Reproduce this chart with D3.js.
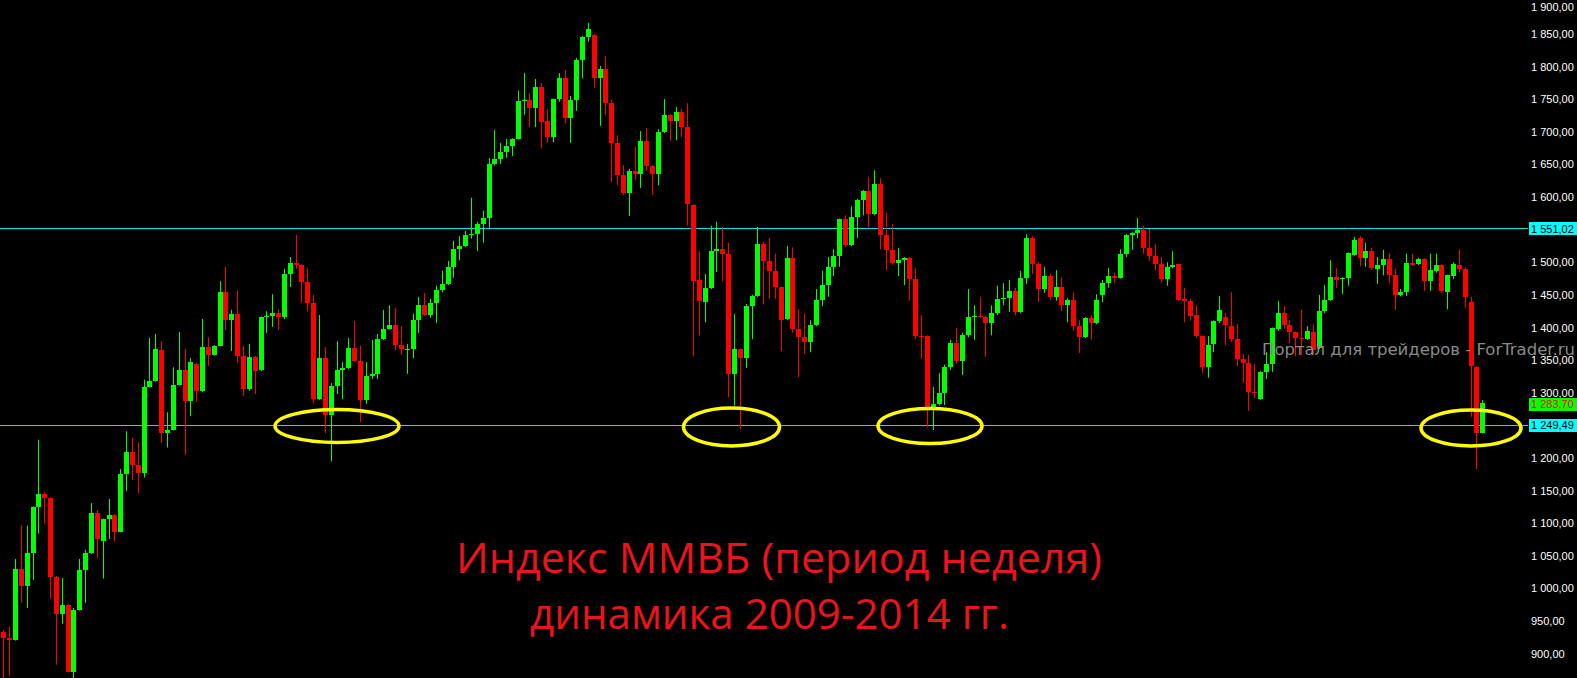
<!DOCTYPE html>
<html><head><meta charset="utf-8">
<script src="https://cdn.jsdelivr.net/npm/d3@7"></script>
<style>html,body{margin:0;padding:0;background:#000;overflow:hidden}svg{display:block}</style>
</head><body>
<svg id="c" width="1577" height="678"></svg>
<script>
// Weekly MICEX index candles (open, high, low, close)
const opens = [932,923,920,1029,1002,1053,1124,1144,1138,1017,960,974,871,966,1027,1053,1115,1072,1105,1112,1086,1174,1208,1188,1176,1308,1317,1364,1238,1242,1311,1334,1286,1343,1302,1369,1357,1371,1453,1410,1420,1355,1305,1354,1334,1415,1417,1421,1415,1481,1498,1495,1469,1437,1289,1352,1265,1309,1334,1337,1368,1348,1288,1325,1328,1381,1397,1403,1372,1364,1366,1410,1433,1418,1437,1456,1466,1492,1519,1524,1541,1542,1558,1567,1650,1657,1668,1677,1688,1746,1748,1735,1768,1716,1691,1749,1781,1720,1748,1809,1844,1847,1781,1795,1743,1682,1633,1605,1639,1634,1685,1647,1634,1699,1725,1716,1729,1706,1587,1472,1438,1460,1516,1519,1512,1328,1366,1352,1432,1447,1527,1501,1486,1461,1412,1506,1397,1384,1377,1403,1441,1464,1492,1509,1565,1525,1568,1594,1608,1573,1619,1541,1518,1498,1502,1506,1473,1386,1386,1274,1282,1299,1338,1375,1348,1387,1415,1417,1415,1406,1421,1443,1444,1455,1423,1475,1536,1496,1458,1478,1446,1461,1433,1441,1401,1384,1414,1406,1449,1467,1478,1475,1512,1541,1544,1548,1521,1509,1496,1473,1492,1496,1443,1440,1418,1386,1338,1374,1409,1415,1401,1381,1351,1345,1300,1289,1331,1343,1397,1421,1403,1392,1383,1381,1392,1368,1424,1441,1476,1473,1475,1510,1536,1506,1516,1489,1495,1504,1479,1449,1453,1498,1496,1504,1470,1486,1495,1453,1478,1495,1489,1438,1338,1237];
const highs = [935,940,1044,1096,1095,1125,1227,1147,1139,1018,1015,975,969,1044,1058,1130,1119,1106,1136,1113,1182,1240,1230,1223,1319,1383,1389,1378,1269,1338,1392,1366,1352,1345,1412,1384,1372,1470,1492,1426,1456,1371,1374,1355,1416,1424,1450,1427,1489,1507,1541,1496,1490,1449,1418,1369,1314,1378,1346,1383,1409,1371,1346,1380,1389,1426,1433,1429,1401,1374,1420,1446,1452,1443,1463,1486,1501,1532,1539,1547,1598,1561,1578,1659,1702,1682,1688,1689,1762,1789,1758,1780,1774,1734,1750,1789,1794,1754,1812,1846,1866,1849,1800,1815,1748,1694,1648,1642,1676,1700,1705,1648,1703,1749,1726,1737,1734,1743,1588,1516,1481,1555,1561,1553,1529,1420,1367,1435,1449,1553,1530,1536,1512,1462,1524,1522,1427,1421,1410,1458,1486,1507,1519,1566,1571,1585,1596,1610,1630,1640,1628,1575,1558,1521,1507,1507,1490,1418,1387,1308,1329,1342,1380,1398,1391,1458,1433,1446,1417,1433,1463,1467,1472,1460,1486,1542,1539,1499,1492,1481,1487,1476,1444,1453,1410,1415,1418,1450,1472,1490,1483,1519,1542,1545,1567,1555,1550,1527,1507,1499,1516,1497,1460,1443,1433,1387,1386,1410,1447,1421,1453,1404,1358,1357,1343,1332,1361,1399,1440,1432,1410,1393,1426,1401,1404,1449,1464,1502,1490,1476,1514,1538,1539,1529,1521,1507,1518,1513,1489,1458,1512,1512,1506,1505,1512,1512,1496,1480,1499,1519,1492,1446,1340,1288];
const lows = [855,865,919,977,969,1012,1083,1098,983,882,945,870,858,965,977,1052,1045,1014,1075,1071,1085,1148,1165,1145,1169,1307,1316,1222,1215,1241,1310,1204,1263,1285,1300,1340,1356,1370,1395,1363,1345,1294,1302,1297,1332,1391,1400,1395,1412,1461,1489,1437,1424,1283,1288,1237,1194,1297,1289,1335,1346,1254,1282,1320,1320,1380,1396,1364,1357,1328,1352,1391,1417,1414,1406,1453,1464,1475,1502,1522,1535,1516,1529,1552,1647,1650,1659,1662,1687,1725,1706,1706,1674,1682,1683,1745,1712,1682,1731,1781,1837,1766,1708,1725,1622,1617,1602,1570,1625,1613,1639,1602,1617,1697,1685,1686,1691,1555,1355,1387,1407,1458,1484,1470,1292,1279,1243,1337,1381,1446,1435,1443,1443,1363,1410,1391,1323,1358,1361,1401,1432,1446,1478,1492,1522,1524,1536,1571,1552,1571,1519,1487,1495,1478,1464,1440,1381,1351,1246,1242,1279,1280,1334,1343,1326,1384,1380,1414,1354,1387,1418,1433,1423,1418,1421,1466,1481,1438,1452,1441,1440,1424,1407,1394,1360,1383,1380,1404,1438,1460,1467,1474,1507,1518,1536,1512,1501,1487,1467,1463,1490,1440,1407,1410,1383,1329,1322,1361,1406,1372,1377,1340,1314,1271,1291,1288,1320,1331,1394,1397,1375,1355,1357,1380,1357,1366,1421,1440,1460,1450,1463,1509,1493,1492,1487,1466,1479,1467,1426,1447,1447,1493,1495,1455,1455,1483,1452,1427,1473,1483,1429,1262,1182,1237];
const closes = [923,920,1029,1002,1053,1124,1144,1138,1017,960,974,871,966,1027,1053,1115,1074,1105,1112,1086,1174,1208,1188,1176,1308,1317,1366,1238,1242,1311,1334,1286,1346,1302,1369,1357,1371,1453,1410,1420,1355,1305,1354,1332,1415,1417,1421,1415,1481,1498,1495,1469,1437,1289,1352,1265,1309,1334,1337,1368,1348,1288,1325,1328,1381,1397,1403,1372,1366,1366,1410,1433,1418,1437,1456,1466,1492,1519,1524,1541,1542,1558,1567,1650,1657,1668,1677,1688,1746,1748,1735,1768,1714,1691,1749,1781,1720,1748,1809,1844,1857,1781,1795,1743,1682,1633,1605,1639,1634,1685,1647,1634,1699,1725,1716,1729,1706,1588,1470,1440,1460,1516,1519,1512,1328,1366,1352,1432,1447,1527,1501,1486,1461,1410,1506,1397,1384,1377,1403,1441,1464,1492,1509,1565,1525,1568,1594,1608,1573,1619,1541,1518,1498,1502,1506,1473,1386,1384,1274,1282,1299,1338,1375,1348,1387,1415,1417,1415,1406,1421,1443,1444,1455,1423,1475,1536,1496,1458,1478,1446,1461,1433,1441,1401,1384,1414,1406,1441,1467,1478,1475,1512,1541,1544,1548,1521,1509,1496,1473,1492,1495,1441,1440,1417,1386,1338,1372,1409,1426,1403,1381,1351,1345,1300,1299,1331,1343,1398,1421,1403,1392,1383,1381,1394,1364,1424,1441,1476,1472,1475,1513,1533,1506,1516,1490,1495,1504,1479,1449,1453,1498,1495,1504,1470,1487,1495,1455,1479,1496,1489,1446,1340,1237,1283.7];
const yTicks = [1900,1850,1800,1750,1700,1650,1600,1500,1450,1400,1350,1300,1200,1150,1100,1050,1000,950,900,850];
const levelLines = [1551.02, 1249.49];
const lastPrice = 1283.70;
const highlightWeeks = [55, 126, 159, 253];   // candles circled in yellow
const titleLines = ["Индекс ММВБ (период неделя)", "динамика 2009-2014 гг."];
const watermark = "Портал для трейдеров - ForTrader.ru";

const W = 1577, H = 678;
const svg = d3.select("#c");
svg.append("rect").attr("width", W).attr("height", H).attr("fill", "#000");

const idx = d3.range(opens.length);
const x = d3.scalePoint().domain(idx).range([3.3, 1482.3]);
const y = d3.scaleLinear().domain([850, 1900]).range([685.6, 0.7]);

const loc = d3.formatLocale({decimal: ",", thousands: " ", grouping: [3], currency: ["", ""]});
const fmt = loc.format(",.2f");

// level lines
svg.append("g").selectAll("line").data(levelLines).join("line")
  .attr("x1", 0).attr("x2", 1528)
  .attr("y1", d => Math.round(y(d)) + 0.5).attr("y2", d => Math.round(y(d)) + 0.5)
  .attr("stroke", "#00e5e5").attr("stroke-width", 1);

// candles
const g = svg.append("g");
const col = i => closes[i] >= opens[i] ? "#00ff00" : "#ff0000";
g.selectAll("line.w").data(idx).join("line").attr("class", "w")
  .attr("x1", i => Math.round(x(i)) + 0.5).attr("x2", i => Math.round(x(i)) + 0.5)
  .attr("y1", i => y(highs[i])).attr("y2", i => y(lows[i]))
  .attr("stroke", col).attr("stroke-width", 1);
g.selectAll("rect.b").data(idx).join("rect").attr("class", "b")
  .attr("x", i => Math.round(x(i)) - 2).attr("width", 5)
  .attr("y", i => y(Math.max(opens[i], closes[i])))
  .attr("height", i => Math.max(1.2, Math.abs(y(opens[i]) - y(closes[i]))))
  .attr("fill", col).attr("shape-rendering", "crispEdges");

// yellow ellipses around the support touches
const ellipseSize = [[62, 16.5], [48, 19], [52, 17.5], [50, 18]];
svg.append("g").selectAll("ellipse").data(highlightWeeks).join("ellipse")
  .attr("cx", (d, k) => [337, 731.5, 930, 1471][k])
  .attr("cy", (d, k) => [426, 427, 426, 428][k])
  .attr("rx", (d, k) => ellipseSize[k][0]).attr("ry", (d, k) => ellipseSize[k][1])
  .attr("fill", "none").attr("stroke", "#ffff00").attr("stroke-width", 3.5);

// right price axis
const ax = svg.append("g").attr("transform", "translate(1528,0)")
  .call(d3.axisRight(y).tickValues(yTicks).tickFormat(fmt).tickSize(0).tickPadding(3));
ax.select(".domain").remove();
ax.selectAll("text").attr("fill", "#ffffff").attr("font-family", "Liberation Sans, Arial, sans-serif")
  .attr("font-size", 11).attr("dy", "0.38em");
ax.selectAll(".tick").filter(d => y(d) < 6).select("text").attr("y", d => 6 - y(d));

// price labels
const boxes = [
  {v: levelLines[0], bg: "#00ffff", fg: "#000000"},
  {v: lastPrice, bg: "#00ff00", fg: "#ff0000"},
  {v: levelLines[1], bg: "#00ffff", fg: "#000000"}
];
const bg = svg.append("g");
bg.selectAll("rect").data(boxes).join("rect")
  .attr("x", 1529).attr("width", 48)
  .attr("y", d => Math.round(y(d.v)) - 6 + (d.v === lastPrice ? 1 : 0)).attr("height", 13)
  .attr("fill", d => d.bg);
bg.selectAll("text").data(boxes).join("text")
  .attr("x", 1531).attr("y", d => y(d.v) + (d.v === lastPrice ? 1 : 0)).attr("dy", "0.38em")
  .attr("font-family", "Liberation Sans, Arial, sans-serif").attr("font-size", 11)
  .attr("fill", d => d.fg).text(d => fmt(d.v));

// watermark
svg.append("text").attr("x", 1262).attr("y", 355)
  .attr("font-family", "DejaVu Sans, sans-serif").attr("font-size", 16)
  .attr("fill", "#8a8a8a").attr("textLength", 313).attr("lengthAdjust", "spacingAndGlyphs")
  .text(watermark);

// title
svg.append("g").selectAll("text").data(titleLines).join("text")
  .attr("x", (d, k) => [456, 530][k]).attr("y", (d, k) => [573, 629][k])
  .attr("font-family", "Open Sans, sans-serif").attr("font-size", 42)
  .attr("fill", "#e8141e")
  .attr("textLength", (d, k) => [646, 479][k]).attr("lengthAdjust", "spacingAndGlyphs")
  .text(d => d);
</script>
</body></html>
